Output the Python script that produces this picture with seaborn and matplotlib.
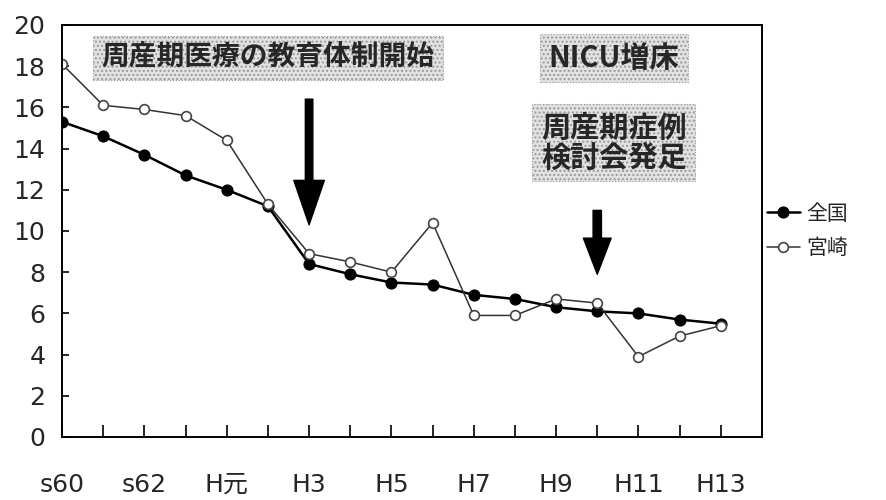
import numpy as np
import pandas as pd
import seaborn as sns
import matplotlib.pyplot as plt

# data
years = ['s60', 's61', 's62', 's63', 'H元', 'H2', 'H3', 'H4', 'H5', 'H6',
         'H7', 'H8', 'H9', 'H10', 'H11', 'H12', 'H13']
zenkoku = [15.3, 14.6, 13.7, 12.7, 12.0, 11.2, 8.4, 7.9, 7.5, 7.4,
           6.9, 6.7, 6.3, 6.1, 6.0, 5.7, 5.5]
miyazaki = [18.1, 16.1, 15.9, 15.6, 14.4, 11.3, 8.9, 8.5, 8.0, 10.4,
            5.9, 5.9, 6.7, 6.5, 3.9, 4.9, 5.4]

sns.set_style('white')
plt.rcParams['font.family'] = ['Noto Sans CJK JP', 'DejaVu Sans']
plt.rcParams['hatch.color'] = '#8a8a8a'

df = pd.DataFrame({'idx': np.arange(len(years)), '全国': zenkoku, '宮崎': miyazaki})

fig = plt.figure(figsize=(8.87, 5), dpi=100)
ax = fig.add_axes([0.07, 0.126, 0.789, 0.824])

sns.lineplot(data=df, x='idx', y='全国', ax=ax, color='black', lw=1.8,
             marker='o', markersize=8, mfc='black', mec='black', label='全国')
sns.lineplot(data=df, x='idx', y='宮崎', ax=ax, color='#333333', lw=1.1,
             marker='o', markersize=7, mfc='white', mec='#444444', mew=1.2, label='宮崎')

ax.set_xlim(0, 17)
ax.set_ylim(0, 20)
ax.set_yticks(range(0, 21, 2))
ax.set_xticks(range(len(years)))
ax.set_xticklabels([y if i % 2 == 0 else '' for i, y in enumerate(years)])
ax.tick_params(axis='y', left=True, direction='in', length=5, width=1.2,
               labelsize=18, pad=12, color='black')
ax.tick_params(axis='x', bottom=True, direction='in', length=9, width=1.2,
               labelsize=18, pad=26, color='black')
for lab in ax.get_xticklabels():
    lab.set_family(['DejaVu Sans', 'Noto Sans CJK JP'])
for lab in ax.get_yticklabels():
    lab.set_family(['DejaVu Sans'])
ax.set_xlabel('')
ax.set_ylabel('')
for sp in ax.spines.values():
    sp.set_color('black')
    sp.set_linewidth(1.4)

box = dict(boxstyle='square,pad=0.3', fc='#e2e2e2', ec='#9a9a9a', hatch='....', lw=0.8, ls=':')
ax.text(5.0, 18.4, '周産期医療の教育体制開始', fontsize=20, fontweight='bold',
        ha='center', va='center', bbox=box)
ax.text(13.4, 18.4, 'NICU増床', fontsize=21, fontweight='bold',
        ha='center', va='center', bbox=box)
ax.text(13.4, 14.3, '周産期症例\n検討会発足', fontsize=21, fontweight='bold',
        ha='center', va='center', linespacing=1.0, bbox=box)

ax.annotate('', xy=(6, 10.3), xytext=(6, 16.4),
            arrowprops=dict(arrowstyle='simple,head_length=1.6,head_width=1.1,tail_width=0.27',
                            mutation_scale=20, color='black', shrinkA=0, shrinkB=0))
ax.annotate('', xy=(13, 7.9), xytext=(13, 11.0),
            arrowprops=dict(arrowstyle='simple,head_length=1.3,head_width=1.0,tail_width=0.3',
                            mutation_scale=20, color='black', shrinkA=0, shrinkB=0))

ax.legend(loc='center left', bbox_to_anchor=(0.995, 0.5), frameon=False, fontsize=15,
          borderaxespad=0, handlelength=1.6, handletextpad=0.3, labelspacing=0.6)

fig.savefig('out.png', dpi=100)
